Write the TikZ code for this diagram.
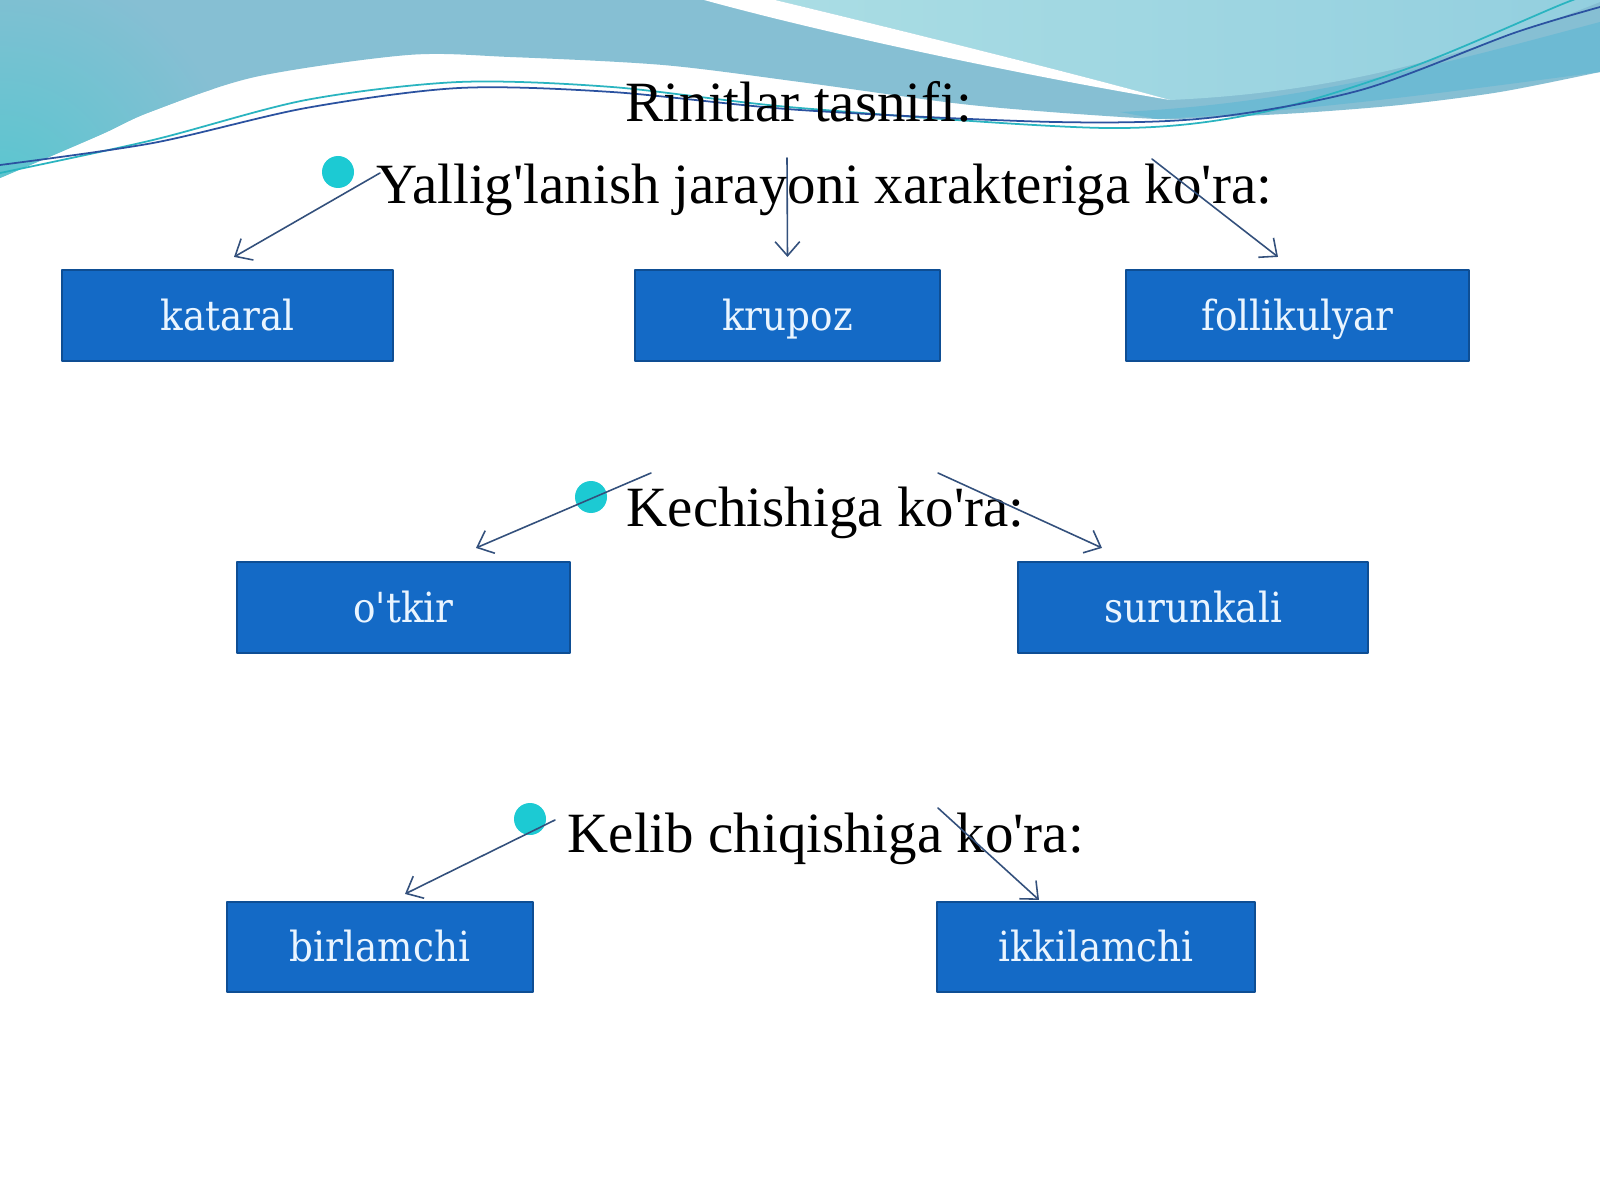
\documentclass[tikz,border=0pt]{standalone}
\usepackage{fontspec}
\setmainfont{Liberation Serif}
\newfontfamily\qutifont{DejaVu Serif Condensed}
\usetikzlibrary{arrows.meta,calc}
\definecolor{tepa}{HTML}{86BFD3}
\definecolor{tepalight}{HTML}{AADDE4}
\definecolor{tepaoch}{HTML}{93CFDF}
\definecolor{tepateal}{HTML}{58C6CF}
\definecolor{tepaband}{HTML}{6DBAD3}
\definecolor{chiziqteal}{HTML}{2AB4C0}
\definecolor{chiziqdark}{HTML}{2B52A0}
\definecolor{qutiblue}{HTML}{146AC6}
\definecolor{qutiedge}{HTML}{0E4E94}
\definecolor{qutitext}{HTML}{EAF5FF}
\definecolor{nuqta}{HTML}{1CCAD3}
\definecolor{strelka}{HTML}{33507C}
\def\ap{\textquotesingle}
\begin{document}
\begin{tikzpicture}[x=0.1mm,y=-0.1mm,line join=round,line cap=round,>={Straight Barb[length=4pt,width=7pt]}]
	\tikzset{quti/.style={draw=qutiedge,line width=0.6pt,fill=qutiblue,text=qutitext,
			font=\qutifont\fontsize{11.8}{14}\selectfont,inner sep=0pt,
			text height=0.84em,text depth=0pt,minimum height=9.1mm},
		sarlavha/.style={font=\fontsize{16.2}{19}\selectfont,inner sep=0pt},
		strelka/.style={->,draw=strelka,line width=0.45pt}}
	\useasboundingbox[fill=white] (0,0) rectangle (1600,1200);
	% to'lqin (fon)
	\begin{scope}
		\clip (0,0) -- (1600,0) -- plot[smooth] coordinates {(1600,72) (1500,92) (1400,105)
			(1300,113) (1200,118) (1157,119) (1050,112) (953,103) (800,82) (663,65) (510,57)
			(408,55) (255,77) (150,112) (100,135) (0,178)} -- cycle;
		\fill[tepa] (0,0) rectangle (1600,200);
		\shade[inner color=tepateal,outer color=tepa] (0,200) circle (24mm);
		\shade[left color=tepalight,right color=tepaoch] (775,0) .. controls (920,35) and (1080,75) .. (1170,100)
		.. controls (1350,92) and (1480,50) .. (1600,2) -- (1600,0) -- cycle;
		\fill[white] (704,0) .. controls (850,40) and (1050,80) .. (1170,100)
		.. controls (1080,75) and (920,35) .. (775,0) -- cycle;
		\fill[tepaband] (1120,112) .. controls (1300,104) and (1450,62) .. (1600,22)
		-- (1600,72) .. controls (1450,92) and (1300,112) .. (1157,119) -- cycle;
	\end{scope}
	\draw[chiziqteal,line width=0.5pt] plot[smooth] coordinates {(0,173) (153,140) (306,100) (459,82)
		(612,87) (800,108) (1106,128) (1259,113) (1412,67) (1565,3) (1600,-8)};
	\draw[chiziqdark,line width=0.5pt] plot[smooth] coordinates {(0,165) (153,143) (306,108) (459,88)
		(612,92) (800,110) (1055,122) (1208,118) (1361,90) (1514,33) (1600,7)};
	% sarlavhalar
	\node[sarlavha,anchor=base] (sarlavha) at (799,122) {Rinitlar tasnifi:};
	\node[sarlavha,anchor=base west] (yallig) at (376,204) {Yallig\ap lanish jarayoni xarakteriga ko\ap ra:};
	\node[sarlavha,anchor=base west] (kechish) at (626,527) {Kechishiga ko\ap ra:};
	\node[sarlavha,anchor=base west] (kelib) at (567,852) {Kelib chiqishiga ko\ap ra:};
	\fill[nuqta] (338,172) circle (1.6mm) (591,497) circle (1.6mm) (530,819) circle (1.6mm);
	% qutilar
	\node[quti,minimum width=33.1mm] (kataral) at (227.5,315.5) {kataral};
	\node[quti,minimum width=30.5mm] (krupoz) at (787.5,315.5) {krupoz};
	\node[quti,minimum width=34.3mm] (follik) at (1297.5,315.5) {follikulyar};
	\node[quti,minimum width=33.3mm] (otkir) at (403.5,607.5) {o\ap tkir};
	\node[quti,minimum width=35mm] (surunkali) at (1193,607.5) {surunkali};
	\node[quti,minimum width=30.6mm,minimum height=9mm] (birlamchi) at (380,947) {birlamchi};
	\node[quti,minimum width=31.8mm,minimum height=9mm] (ikkilamchi) at (1096,947) {ikkilamchi};
	% strelkalar
	\coordinate (y1) at (380,173); \coordinate (y2) at (787,158); \coordinate (y3) at (1152,159);
	\coordinate (k1) at (651,473); \coordinate (k2) at (938,473);
	\coordinate (c1) at (555,820); \coordinate (c2) at (938,808);
	\draw[strelka] (y1) -- ($(kataral.north)+(6.5,-12)$);
	\draw[strelka] (y2) -- ($(krupoz.north)+(0,-12)$);
	\draw[strelka] (y3) -- ($(follik.north)+(-19.5,-12)$);
	\draw[strelka] (k1) -- ($(otkir.north)+(72.5,-13)$);
	\draw[strelka] (k2) -- ($(surunkali.north)+(-91,-13)$);
	\draw[strelka] (c1) -- ($(birlamchi.north)+(25,-7)$);
	\draw[strelka] (c2) -- ($(ikkilamchi.north)+(-57,-1)$);
\end{tikzpicture}
\end{document}
